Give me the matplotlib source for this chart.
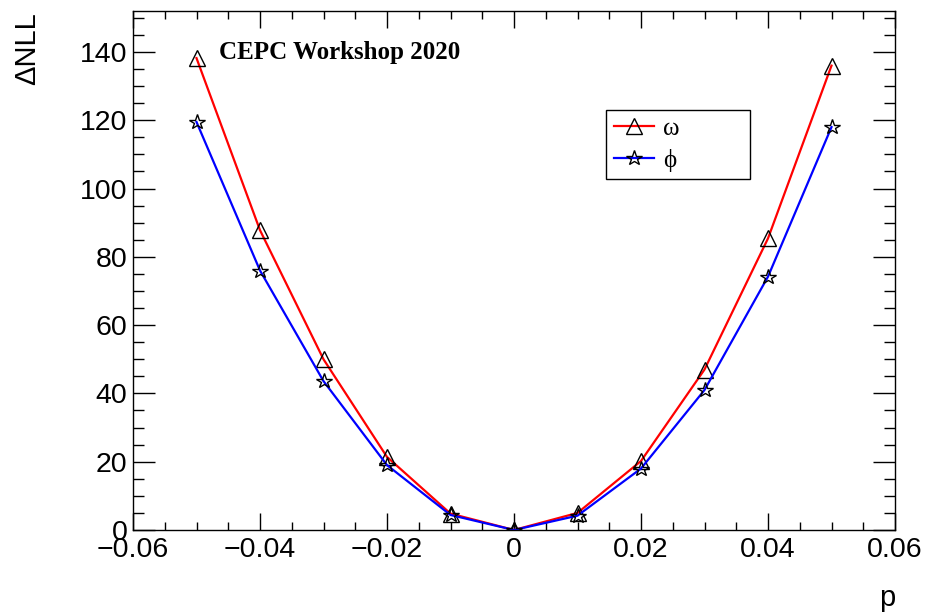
import numpy as np
import matplotlib
matplotlib.use('Agg')
import matplotlib.pyplot as plt
from matplotlib.ticker import MultipleLocator

# data
p_vals    = [-0.05, -0.04, -0.03, -0.02, -0.01, 0.0, 0.01, 0.02, 0.03, 0.04, 0.05]
nll_omega = [138.2, 87.8, 50.0, 21.4, 4.8, 0.0, 5.0, 20.2, 47.0, 85.4, 136.0]
nll_phi   = [119.5, 76.0, 43.6, 19.0, 4.4, 0.0, 4.2, 18.0, 41.0, 74.2, 118.0]

plt.rc('font', family='Liberation Sans')

W, H = 926, 613
fig = plt.figure(figsize=(W/100, H/100), dpi=100)
ax = fig.add_axes([133/W, 1-530/H, (895-133)/W, (530-11)/H])

ax.plot(p_vals, nll_omega, color='red', lw=1.6, marker='^', ms=11,
        mfc='none', mec='black', mew=1.0, label='ω')
ax.plot(p_vals, nll_phi, color='blue', lw=1.6, marker='*', ms=11.5,
        mfc='none', mec='black', mew=1.0, label='ϕ')

ax.set_xlim(-0.06, 0.06)
ax.set_ylim(0, 152)
ax.xaxis.set_major_locator(MultipleLocator(0.02))
ax.xaxis.set_minor_locator(MultipleLocator(0.005))
ax.yaxis.set_major_locator(MultipleLocator(20))
ax.yaxis.set_minor_locator(MultipleLocator(5))
ax.xaxis.set_major_formatter(plt.FuncFormatter(
    lambda v, _: '0' if abs(v) < 1e-9 else ('%g' % v).replace('-', '\u2212')))

ax.tick_params(which='both', direction='in', top=True, right=True, labelsize=20.5, width=1.0)
ax.tick_params(axis='x', which='major', length=12, pad=5)
ax.tick_params(axis='x', which='minor', length=6)
ax.tick_params(axis='y', which='major', length=16, pad=4)
ax.tick_params(axis='y', which='minor', length=8)
for s in ax.spines.values():
    s.set_linewidth(1.0)

fig.text(27/W, 1-12/H, 'ΔNLL', rotation=90, ha='center', va='top', fontsize=21)
fig.text(895/W, 1-612/H, 'p', ha='right', va='bottom', fontsize=21)

fig.text(219/W, 1-53/H, 'CEPC Workshop 2020', family='Liberation Serif',
         weight='bold', fontsize=18, va='center', ha='left')

# legend box spans x 606..750, y 110..176 in pixels
x0 = (606-133)/762
w = (750-606)/762
y1 = (530-110)/519
h = (176-110)/519
leg = ax.legend(loc='upper left', bbox_to_anchor=(x0, y1-h, w, h), mode='expand',
                frameon=True, fancybox=False, edgecolor='black', framealpha=1,
                prop={'family': 'Liberation Serif', 'size': 18}, handlelength=1.6,
                handletextpad=0.4, borderpad=0.3, labelspacing=0.35, borderaxespad=0)
leg.get_frame().set_linewidth(1.0)

fig.savefig('out.png', dpi=100)
